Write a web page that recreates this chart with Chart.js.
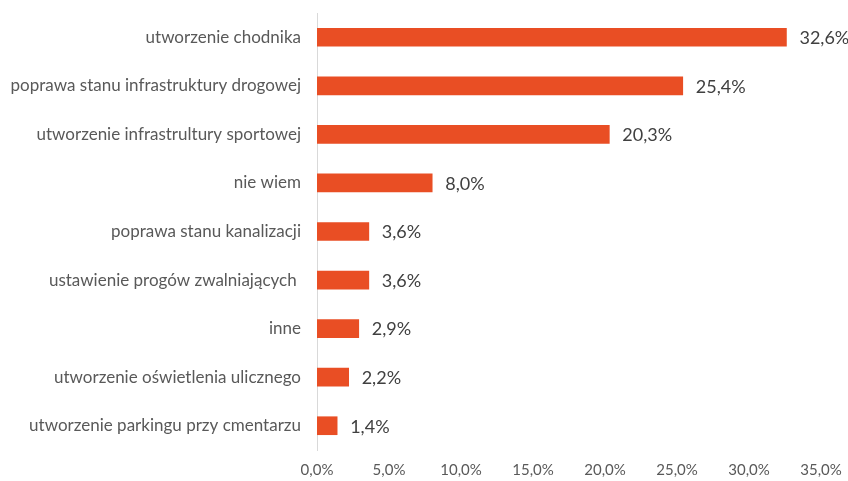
<!DOCTYPE html>
<html>
<head>
<meta charset="utf-8">
<script src="https://cdn.jsdelivr.net/npm/chart.js@4"></script>
<style>
  html, body { margin: 0; padding: 0; background: #fff; }
  #wrap { width: 848px; height: 481px; position: relative; }
</style>
</head>
<body>
<div id="wrap"><canvas id="barChart"></canvas></div>
<script>
// data
const categories = [
  'utworzenie chodnika',
  'poprawa stanu infrastruktury drogowej',
  'utworzenie infrastrultury sportowej',
  'nie wiem',
  'poprawa stanu kanalizacji',
  'ustawienie progów zwalniających ',
  'inne',
  'utworzenie oświetlenia ulicznego',
  'utworzenie parkingu przy cmentarzu'
]
const shares = [32.6, 25.4, 20.3, 8.0, 3.6, 3.6, 2.9, 2.2, 1.4]
const xTicks = [0, 5, 10, 15, 20, 25, 30, 35]

const fmt = v => v.toFixed(1).replace('.', ',') + '%'
const FONT = 'Lato, "Open Sans", sans-serif'

// value labels to the right of each bar
const valueLabels = {
  id: 'valueLabels',
  afterDatasetsDraw(chart){
    const ctx = chart.ctx
    const meta = chart.getDatasetMeta(0)
    ctx.save()
    ctx.font = '18px ' + FONT
    ctx.fillStyle = '#404040'
    ctx.textAlign = 'left'
    ctx.textBaseline = 'middle'
    meta.data.forEach((bar, i) => {
      ctx.fillText(fmt(shares[i]), bar.x + 13, bar.y + 1)
    })
    ctx.restore()
  }
}

const ctx = document.getElementById('barChart')

new Chart(ctx, {
  type: 'bar',
  data: {
    labels: categories,
    datasets: [{
      data: shares,
      backgroundColor: '#E94E24',
      barThickness: 18
    }]
  },
  options: {
    indexAxis: 'y',
    responsive: true,
    maintainAspectRatio: false,
    animation: false,
    layout: { padding: { top: 13, right: 27, left: 0, bottom: 0 } },
    plugins: {
      legend: { display: false },
      tooltip: { enabled: false }
    },
    scales: {
      x: {
        min: 0,
        max: 35,
        afterBuildTicks: scale => { scale.ticks = xTicks.map(v => ({ value: v })) },
        afterFit: scale => {
          scale.height = 31
          scale.paddingRight = 0
        },
        grid: { display: false, drawTicks: false },
        border: { display: false },
        ticks: {
          padding: 11,
          color: '#595959',
          font: { family: FONT, size: 15 },
          callback: v => fmt(v)
        }
      },
      y: {
        afterFit: scale => {
          scale.width = 317
          scale.paddingTop = 0
          scale.paddingBottom = 0
        },
        grid: { display: false, drawTicks: false },
        border: { display: true, color: '#D9D9D9', width: 1 },
        ticks: {
          padding: 16,
          color: '#595959',
          font: { family: FONT, size: 17 }
        }
      }
    }
  },
  plugins: [valueLabels]
})
</script>
</body>
</html>
